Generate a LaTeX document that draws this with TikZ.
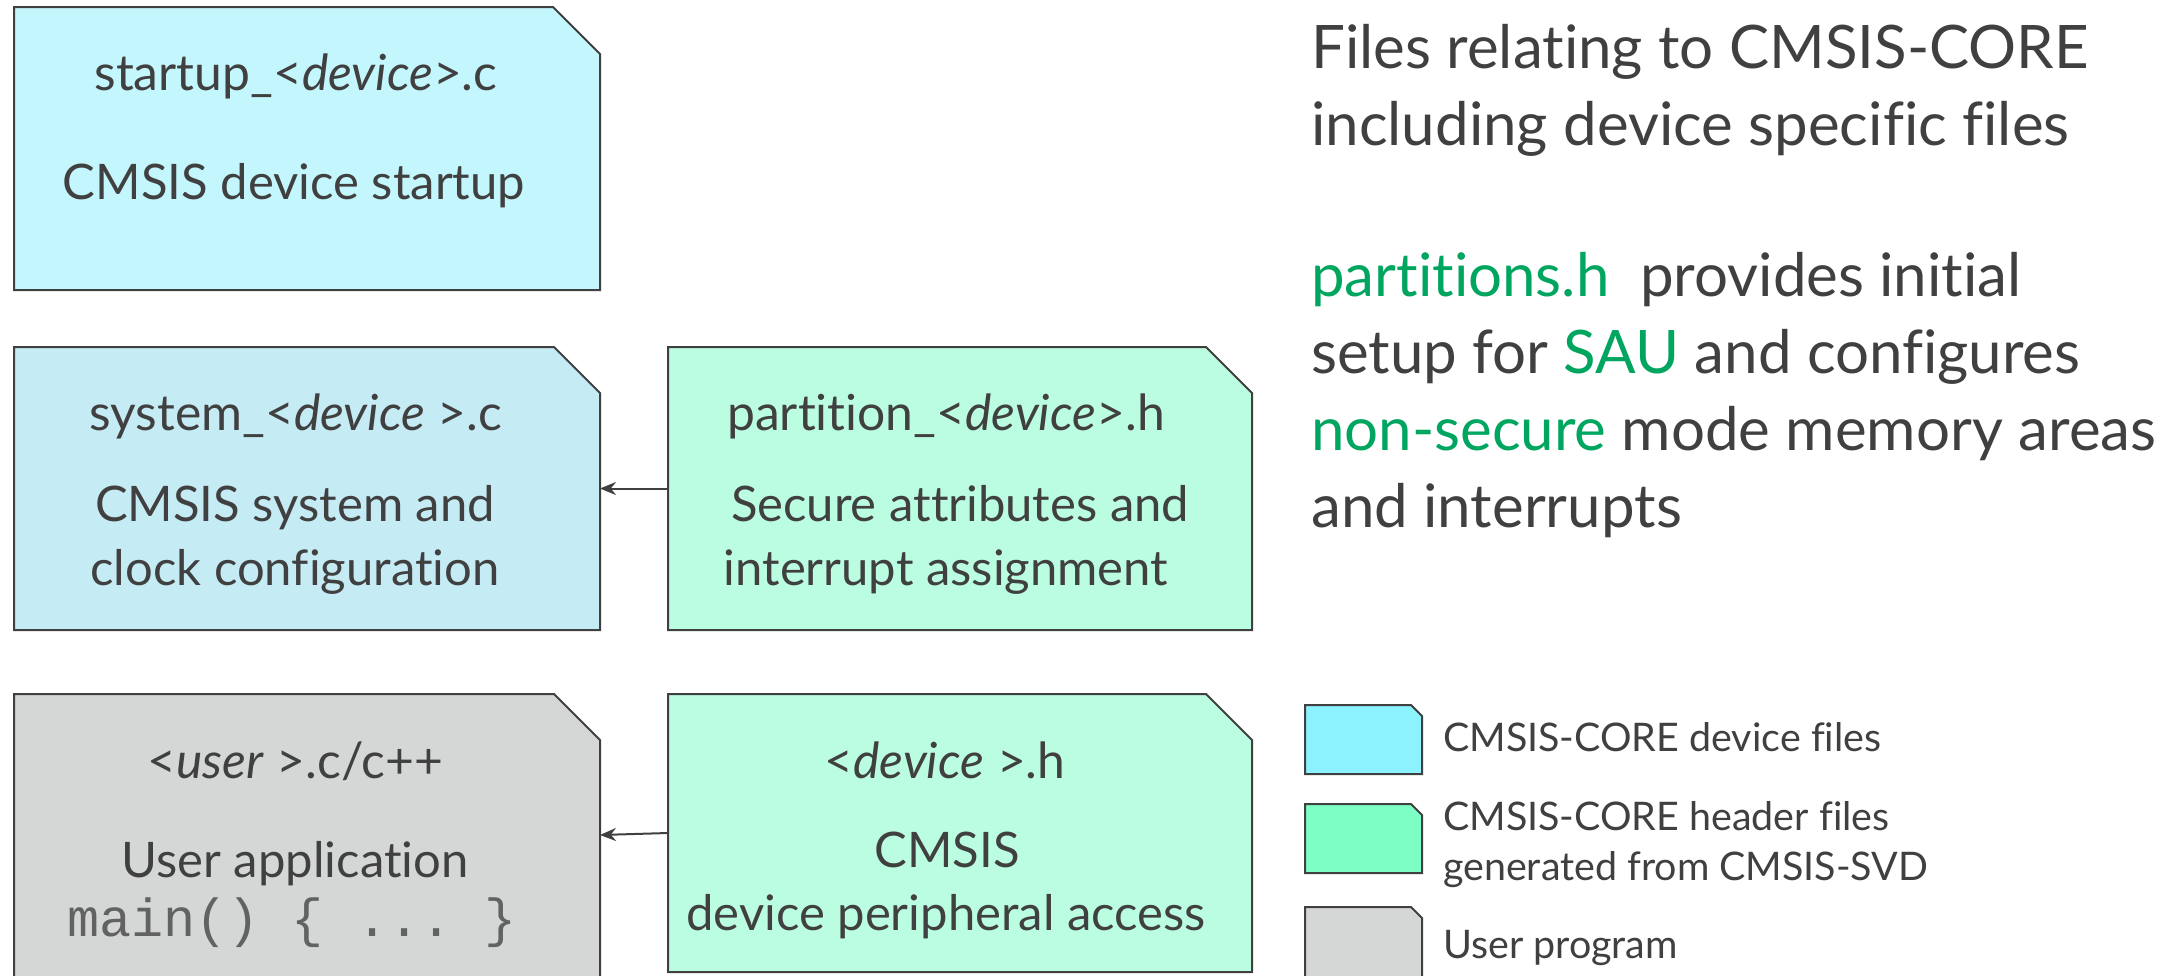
\documentclass[tikz,border=0pt]{standalone}
\usepackage{fontspec}
\setmainfont{Lato}[Ligatures=NoCommon]
\setmonofont{Liberation Mono}
\usetikzlibrary{arrows.meta}
\definecolor{ink}{HTML}{404040}
\definecolor{monoink}{HTML}{626262}
\definecolor{grn}{HTML}{00A65F}
\definecolor{cyanA}{HTML}{C4F6FD}
\definecolor{blueB}{HTML}{C5EBF5}
\definecolor{greenC}{HTML}{BBFDE0}
\definecolor{greyD}{HTML}{D5D7D7}
\definecolor{legCyan}{HTML}{8BF2FE}
\definecolor{legGreen}{HTML}{7CFEC4}
\newcommand\chambox[7]{%
  \node[inner sep=0pt, outer sep=0pt, minimum width=#4pt, minimum height=#5pt] (#1) at (#2,#3) {};
  \draw[boxline, fill=#6] (#1.south west) -- (#1.north west) -- ([xshift=-#7pt]#1.north east)
     -- ([yshift=-#7pt]#1.north east) -- (#1.south east) -- cycle;}
\begin{document}
\begin{tikzpicture}[x=1pt,y=-1pt,
  boxline/.style={draw=ink, line width=2pt, line join=miter},
  conn/.style={draw=ink, line width=2pt, -{Stealth[length=16pt,width=13pt]}},
  ttl/.style={text=ink, anchor=base, inner sep=0pt, font=\fontsize{49.8}{58}\selectfont},
  bod/.style={text=ink, anchor=base, inner sep=0pt, font=\fontsize{49}{58}\selectfont},
  mono/.style={text=monoink, anchor=base, inner sep=0pt, font=\ttfamily\fontsize{53.5}{60}\selectfont},
  rtxt/.style={text=ink, anchor=base west, inner sep=0pt, font=\fontsize{60}{70}\selectfont},
  leg/.style={text=ink, anchor=base west, inner sep=0pt, font=\fontsize{39.4}{46}\selectfont}]
\useasboundingbox (0,0) rectangle (2175,975);
\clip (0,0) rectangle (2175,975);
\fill[white] (0,0) rectangle (2175,975);

% file boxes
\chambox{startup}{307}{148.5}{586}{283}{cyanA}{47}
\chambox{system}{307}{488.5}{586}{283}{blueB}{46}
\chambox{partition}{960}{488.5}{584}{283}{greenC}{46}
\chambox{user}{307}{852}{586}{316}{greyD}{46}
\chambox{devh}{960}{833}{584}{278}{greenC}{46}

% connectors
\draw[conn] (partition.west) -- (system.east);
\draw[conn] (devh.west) -- ([yshift=-2pt]devh.west -| user.east);

% box texts
\node[ttl] (t1) at (296,90) {startup\_<\textit{device}>.c};
\node[bod] (b1) at (294,199) {CMSIS device startup};
\node[ttl] (t2) at (296,430) {system\_<\textit{device} >.c};
\node[bod] (b2a) at (295,521) {CMSIS system and};
\node[bod] (b2b) at (295,585) {clock configuration};
\node[ttl] (t3) at (946,430) {partition\_<\textit{device}>.h};
\node[bod] (b3a) at (960,521) {Secure attributes and};
\node[bod] (b3b) at (946,585) {interrupt assignment};
\node[ttl] (t4) at (295,778) {<\textit{user} >.c/c++};
\node[bod] (b4a) at (295,877) {User application};
\node[mono] (b4b) at (292,936) {main() \{ ... \}};
\node[ttl] (t5) at (945,778) {<\textit{device} >.h};
\node[bod] (b5a) at (947,867) {CMSIS};
\node[bod] (b5b) at (946,930) {device peripheral access};

% right-hand text
\node[rtxt] (r1) at (1311,68) {Files relating to CMSIS-CORE};
\node[rtxt] (r2) at (1311,145) {including device specific files};
\node[rtxt] (r3) at (1311,296) {\textcolor{grn}{partitions.h}\ \ provides initial};
\node[rtxt] (r4) at (1311,373) {setup for \textcolor{grn}{SAU} and configures};
\node[rtxt] (r5) at (1311,450) {\textcolor{grn}{non-secure} mode memory areas};
\node[rtxt] (r6) at (1311,527) {and interrupts};

% legend
\chambox{lg1}{1363.5}{739.5}{117}{69}{legCyan}{11}
\chambox{lg2}{1363.5}{838.5}{117}{69}{legGreen}{11}
\chambox{lg3}{1363.5}{955}{117}{96}{greyD}{11}
\node[leg] (l1) at (1443,751) {CMSIS-CORE device files};
\node[leg] (l2a) at (1443,830) {CMSIS-CORE header files};
\node[leg] (l2b) at (1443,880) {generated from CMSIS-SVD};
\node[leg] (l3) at (1443,958) {User program};
\end{tikzpicture}
\end{document}
